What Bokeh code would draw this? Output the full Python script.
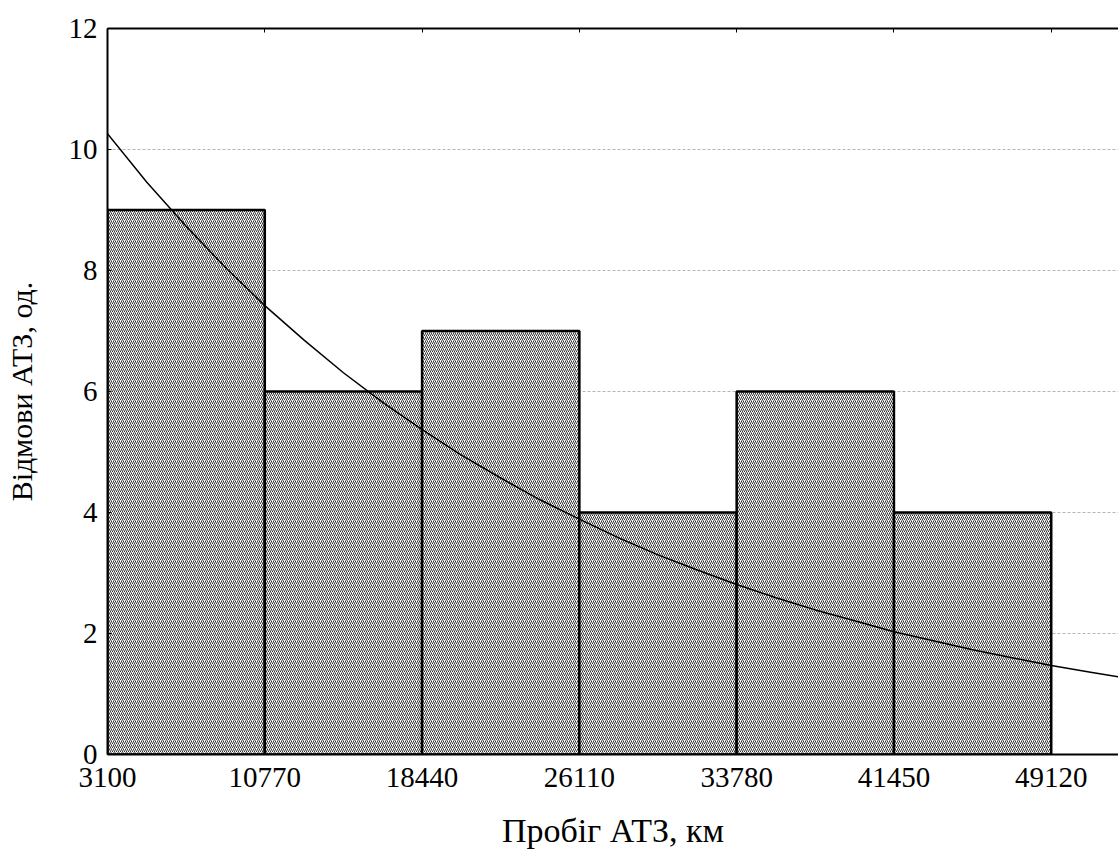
from bokeh.plotting import figure
from bokeh.models import LinearAxis, FixedTicker, Range1d
from bokeh.embed import file_html
from bokeh.resources import INLINE

# ---- data ----
bin_edges = [3100, 10770, 18440, 26110, 33780, 41450, 49120]
counts = [9, 6, 7, 4, 6, 4]

curve_x = [3100, 5017.5, 6935, 8852.5, 10770, 12687.5, 14605, 16522.5, 18440,
           20357.5, 22275, 24192.5, 26110, 28027.5, 29945, 31862.5, 33780,
           35697.5, 37615, 39532.5, 41450, 43367.5, 45285, 47202.5, 49120,
           51037.5, 52955]
curve_y = [10.26, 9.46, 8.73, 8.05, 7.42, 6.85, 6.31, 5.82, 5.37,
           4.95, 4.57, 4.21, 3.89, 3.58, 3.30, 3.05, 2.81,
           2.59, 2.39, 2.21, 2.03, 1.88, 1.73, 1.60, 1.47,
           1.36, 1.25]

x_ticks = [3100, 10770, 18440, 26110, 33780, 41450, 49120]
y_ticks = [0, 2, 4, 6, 8, 10, 12]
x_title = "Пробіг АТЗ, км"
y_title = "Відмови АТЗ, од."

FONT = "Liberation Serif"

p = figure(width=1118, height=851,
           x_range=Range1d(3100, 52400), y_range=Range1d(0, 12),
           output_backend="svg", toolbar_location=None,
           min_border_left=107, min_border_right=0,
           min_border_top=28, min_border_bottom=97,
           x_axis_label=x_title, y_axis_label=y_title)
p.outline_line_color = None
p.background_fill_color = "white"
p.border_fill_color = "white"

# bottom axis
xa = p.below[0]
xa.ticker = FixedTicker(ticks=x_ticks)
xa.major_tick_in = 4
xa.major_tick_out = 0
xa.minor_tick_line_color = None
xa.axis_line_width = 2
xa.axis_line_color = "black"
xa.major_label_text_font = FONT
xa.major_label_text_font_size = "29px"
xa.major_label_text_color = "black"
xa.major_label_standoff = 13
xa.axis_label_text_font = FONT
xa.axis_label_text_font_size = "34px"
xa.axis_label_text_font_style = "normal"
xa.axis_label_text_color = "black"
xa.axis_label_standoff = 22

# left axis
ya = p.left[0]
ya.ticker = FixedTicker(ticks=y_ticks)
ya.major_tick_in = 4
ya.major_tick_out = 0
ya.minor_tick_line_color = None
ya.axis_line_width = 2
ya.axis_line_color = "black"
ya.major_label_text_font = FONT
ya.major_label_text_font_size = "29px"
ya.major_label_text_color = "black"
ya.major_label_standoff = 10
ya.axis_label_text_font = FONT
ya.axis_label_text_font_size = "30px"
ya.axis_label_text_font_style = "normal"
ya.axis_label_text_color = "black"
ya.axis_label_standoff = 28

# top border with inward ticks
top = LinearAxis(ticker=FixedTicker(ticks=x_ticks),
                 major_label_text_font_size="0px",
                 major_label_text_color=None,
                 major_tick_in=4, major_tick_out=0,
                 minor_tick_line_color=None,
                 axis_line_width=2, axis_line_color="black",
                 major_tick_line_color="black")
p.add_layout(top, "above")

# grid
p.xgrid.visible = False
p.ygrid.ticker = FixedTicker(ticks=y_ticks)
p.ygrid.grid_line_color = "#b4b4b4"
p.ygrid.grid_line_dash = "3 2"
p.ygrid.grid_line_width = 1

# histogram bars
p.quad(left=bin_edges[:-1], right=bin_edges[1:], top=counts, bottom=0,
       fill_color="white", line_color="black", line_width=2.5,
       hatch_pattern="/", hatch_scale=4, hatch_color="#333333", hatch_weight=1)

# fitted curve
p.line(curve_x, curve_y, line_color="black", line_width=1.5)

open("out.html", "w").write(file_html(p, INLINE))
